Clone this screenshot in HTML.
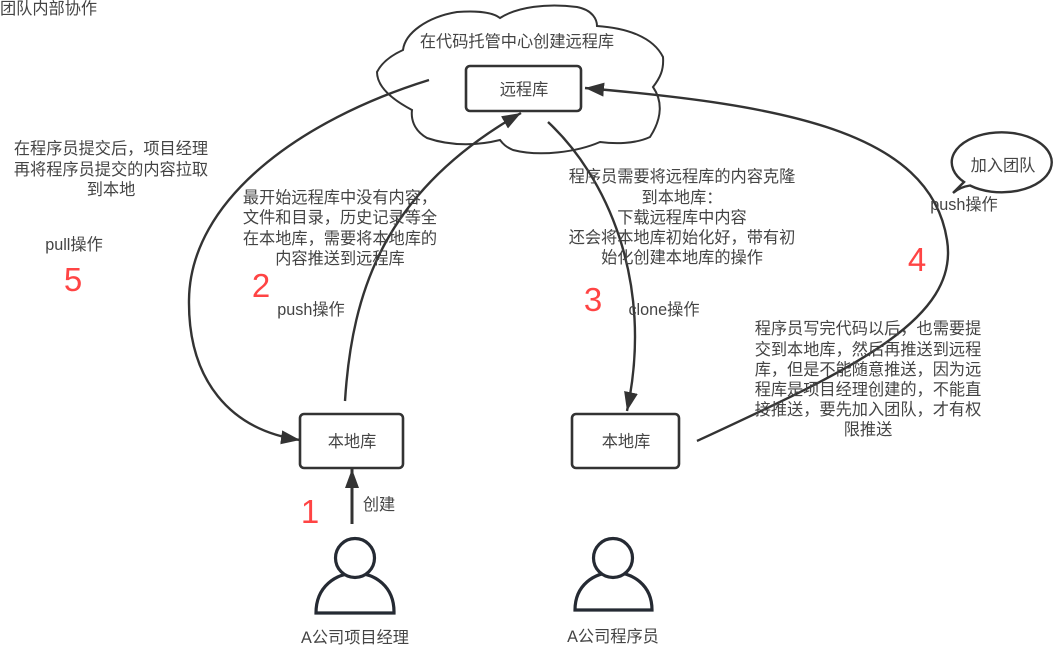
<!DOCTYPE html>
<html lang="zh">
<head>
<meta charset="utf-8">
<style>
html,body{margin:0;padding:0;background:#fff}
svg{display:block}
text{font-family:"Liberation Sans","Noto Sans CJK SC",sans-serif;font-size:16.2px;fill:#444;text-anchor:middle}
.n{font-size:33px;fill:#f44;font-family:"Liberation Sans",sans-serif}
</style>
</head>
<body>
<svg width="1064" height="648" viewBox="0 0 1064 648" xmlns="http://www.w3.org/2000/svg">
<defs>
<marker id="a" markerUnits="userSpaceOnUse" markerWidth="22" markerHeight="18" refX="19" refY="8" orient="auto"><path d="M0 1L19 8L0 15Z" fill="#333"/></marker>
</defs>

<text x="0" y="14" style="text-anchor:start">团队内部协作</text>

<path d="M403 50C405 33 427 17 457 12C483 10 495 14 500 18C517 7 547 3 577 7C593 10 597 20 597 26C627 28 653 37 663 57C664 70 660 78 653 87C662 100 663 117 650 137C635 144 615 144 600 142C577 152 540 157 513 150C506 147 503 144 500 140C480 145 453 147 427 138C413 130 411 118 412 110C393 100 377 87 377 72C382 62 392 55 403 50Z" fill="#fff" stroke="#333" stroke-width="2"/>
<text x="517" y="47">在代码托管中心创建远程库</text>

<rect x="466" y="66" width="115" height="45" rx="4" fill="#fff" stroke="#333" stroke-width="2.6"/>
<text x="524" y="95">远程库</text>

<rect x="300" y="414" width="103" height="54" rx="4" fill="#fff" stroke="#333" stroke-width="2.6"/>
<text x="352" y="447">本地库</text>

<rect x="572" y="414" width="107" height="54" rx="4" fill="#fff" stroke="#333" stroke-width="2.6"/>
<text x="626" y="447">本地库</text>

<g fill="none" stroke="#333" stroke-width="2.4">
<path d="M429 80C300 120 190 200 189 300C188 380 230 430 300 440" marker-end="url(#a)"/>
<path d="M345 401C352 290 385 190 521 113" marker-end="url(#a)"/>
<path d="M548 122C605 175 655 280 627 411" marker-end="url(#a)"/>
<path d="M697 441C850 370 960 320 947 240C930 130 780 105 585 88" marker-end="url(#a)"/>
<path d="M352 524V469" stroke-width="3" marker-end="url(#a)"/>
</g>

<g fill="#fff" stroke="#252a33" stroke-width="3.2">
<path d="M316 613C316 560 395 560 394 613Z"/>
<circle cx="355" cy="558" r="19.5"/>
<path d="M575 610C575 560 652 560 652 610Z"/>
<circle cx="613" cy="558" r="19.5"/>
</g>

<path d="M953 193L964 182A50 30 0 1 1 970 185.5Q960 187 953 193Z" fill="#fff" stroke="#333" stroke-width="2.4"/>
<text x="1003" y="171">加入团队</text>
<text x="964" y="210">push操作</text>

<text x="379" y="510">创建</text>
<text x="355" y="643">A公司项目经理</text>
<text x="613" y="642">A公司程序员</text>

<text x="111" y="154">在程序员提交后，项目经理</text>
<text x="111" y="175">再将程序员提交的内容拉取</text>
<text x="111" y="195">到本地</text>
<text x="74" y="250">pull操作</text>

<text x="340" y="203">最开始远程库中没有内容，</text>
<text x="340" y="223">文件和目录，历史记录等全</text>
<text x="340" y="244">在本地库，需要将本地库的</text>
<text x="340" y="264">内容推送到远程库</text>
<text x="311" y="315">push操作</text>

<text x="682" y="182">程序员需要将远程库的内容克隆</text>
<text x="682" y="203">到本地库：</text>
<text x="682" y="223">下载远程库中内容</text>
<text x="682" y="243">还会将本地库初始化好，带有初</text>
<text x="682" y="263">始化创建本地库的操作</text>
<text x="664" y="315">clone操作</text>

<text x="868" y="334">程序员写完代码以后，也需要提</text>
<text x="868" y="355">交到本地库，然后再推送到远程</text>
<text x="868" y="375">库，但是不能随意推送，因为远</text>
<text x="868" y="395">程库是项目经理创建的，不能直</text>
<text x="868" y="415">接推送，要先加入团队，才有权</text>
<text x="868" y="435">限推送</text>

<text class="n" x="73" y="291">5</text>
<text class="n" x="261" y="297">2</text>
<text class="n" x="593" y="311">3</text>
<text class="n" x="917" y="271">4</text>
<text class="n" x="310" y="523">1</text>
</svg>
</body>
</html>
